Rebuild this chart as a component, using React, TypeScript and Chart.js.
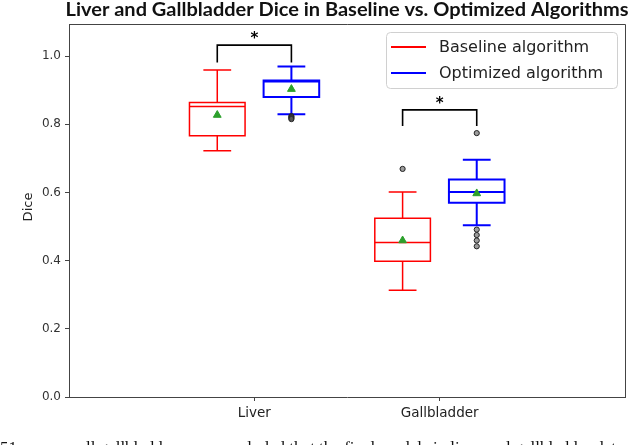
import { useEffect, useRef } from 'react';
import { Chart, registerables } from 'chart.js';

Chart.register(...registerables);

const chartTitle = 'Liver and Gallbladder Dice in Baseline vs. Optimized Algorithms';
const yAxisLabel = 'Dice';
const categories = ['Liver', 'Gallbladder'];
const seriesNames = ['Baseline algorithm', 'Optimized algorithm'];
const seriesColors = ['#ff0000', '#0000ff'];
// [lower whisker, Q1, median, Q3, upper whisker] per category
const baselineBoxes = [
  [0.722, 0.766, 0.852, 0.864, 0.959],
  [0.313, 0.398, 0.453, 0.524, 0.601],
];
const optimizedBoxes = [
  [0.829, 0.88, 0.925, 0.928, 0.969],
  [0.504, 0.57, 0.601, 0.638, 0.696],
];
const baselineMeans = [0.827, 0.459];
const optimizedMeans = [0.903, 0.597];
const baselineOutliers = [[], [0.669]];
const optimizedOutliers = [
  [0.824, 0.821, 0.818, 0.815],
  [0.774, 0.491, 0.475, 0.459, 0.442],
];
const significanceLabels = ['*', '*'];
const bracketTops = [1.032, 0.842];
const bracketLegs = [0.981, 0.795];
const yTicks = [0, 0.2, 0.4, 0.6, 0.8, 1.0];
const caption =
  '51 were small gallbladders, we concluded that the final models in liver and gallbladder dete';

const allBoxes = [baselineBoxes, optimizedBoxes];
const allMeans = [baselineMeans, optimizedMeans];
const allOutliers = [baselineOutliers, optimizedOutliers];
const OFFSETS = [-0.2, 0.2];
const BOX_W = 0.3;
const CAP_W = 0.15;

const boxPlugin = {
  id: 'boxPlugin',
  beforeDatasetsDraw(chart: any) {
    const { ctx, scales } = chart;
    const xs = scales.x;
    const ys = scales.y;
    ctx.save();
    allBoxes.forEach((series, si) => {
      ctx.strokeStyle = seriesColors[si];
      ctx.lineWidth = si === 0 ? 1.5 : 2;
      series.forEach((b, ci) => {
        const c = ci + 1 + OFFSETS[si];
        const xc = xs.getPixelForValue(c);
        const xl = xs.getPixelForValue(c - BOX_W / 2);
        const xr = xs.getPixelForValue(c + BOX_W / 2);
        const cl = xs.getPixelForValue(c - CAP_W / 2);
        const cr = xs.getPixelForValue(c + CAP_W / 2);
        const [lo, q1, med, q3, hi] = b.map((v) => ys.getPixelForValue(v));
        ctx.beginPath();
        ctx.rect(xl, q3, xr - xl, q1 - q3);
        ctx.moveTo(xl, med);
        ctx.lineTo(xr, med);
        ctx.moveTo(xc, q3);
        ctx.lineTo(xc, hi);
        ctx.moveTo(cl, hi);
        ctx.lineTo(cr, hi);
        ctx.moveTo(xc, q1);
        ctx.lineTo(xc, lo);
        ctx.moveTo(cl, lo);
        ctx.lineTo(cr, lo);
        ctx.stroke();
      });
    });
    ctx.restore();
  },
  afterDraw(chart: any) {
    const { ctx, scales, chartArea } = chart;
    const xs = scales.x;
    const ys = scales.y;
    ctx.save();
    // top & right spines
    ctx.strokeStyle = '#444';
    ctx.lineWidth = 1;
    ctx.beginPath();
    ctx.moveTo(chartArea.left, chartArea.top + 0.5);
    ctx.lineTo(chartArea.right + 0.5, chartArea.top + 0.5);
    ctx.lineTo(chartArea.right + 0.5, chartArea.bottom);
    ctx.stroke();

    // significance brackets
    ctx.strokeStyle = '#000';
    ctx.lineWidth = 1.6;
    ctx.fillStyle = '#000';
    ctx.font = 'bold 15px "DejaVu Sans"';
    ctx.textAlign = 'center';
    ctx.textBaseline = 'alphabetic';
    categories.forEach((_, ci) => {
      const x1 = xs.getPixelForValue(ci + 1 + OFFSETS[0]);
      const x2 = xs.getPixelForValue(ci + 1 + OFFSETS[1]);
      const yt = ys.getPixelForValue(bracketTops[ci]);
      const yl = ys.getPixelForValue(bracketLegs[ci]);
      ctx.beginPath();
      ctx.moveTo(x1, yl);
      ctx.lineTo(x1, yt);
      ctx.lineTo(x2, yt);
      ctx.lineTo(x2, yl);
      ctx.stroke();
      ctx.fillText(significanceLabels[ci], (x1 + x2) / 2, yt - 2);
    });

    // legend
    const lw = 231;
    const lh = 56;
    const lx = chartArea.right - 8 - lw;
    const ly = chartArea.top + 8;
    ctx.fillStyle = 'rgba(255,255,255,0.85)';
    ctx.strokeStyle = '#d0d0d0';
    ctx.lineWidth = 1;
    ctx.beginPath();
    (ctx as any).roundRect(lx + 0.5, ly + 0.5, lw, lh, 4);
    ctx.fill();
    ctx.stroke();
    ctx.font = '16px "DejaVu Sans"';
    ctx.textAlign = 'left';
    ctx.textBaseline = 'middle';
    seriesNames.forEach((name, i) => {
      const yy = ly + 15 + i * 26;
      ctx.strokeStyle = seriesColors[i];
      ctx.lineWidth = 2;
      ctx.beginPath();
      ctx.moveTo(lx + 5, yy);
      ctx.lineTo(lx + 40, yy);
      ctx.stroke();
      ctx.fillStyle = '#222';
      ctx.fillText(name, lx + 53, yy + 1);
    });

    // y axis label
    ctx.save();
    ctx.translate(29, 207);
    ctx.rotate(-Math.PI / 2);
    ctx.font = '13px "DejaVu Sans"';
    ctx.fillStyle = '#222';
    ctx.textAlign = 'center';
    ctx.textBaseline = 'middle';
    ctx.fillText(yAxisLabel, 0, 0);
    ctx.restore();

    // title
    ctx.save();
    ctx.font = 'bold 19px Lato';
    ctx.fillStyle = '#111';
    ctx.textAlign = 'center';
    ctx.textBaseline = 'alphabetic';
    const tw = ctx.measureText(chartTitle).width;
    const target = 563;
    const cx = (chartArea.left + chartArea.right) / 2;
    ctx.translate(cx, 16);
    ctx.scale(target / tw, 1);
    ctx.fillText(chartTitle, 0, 0);
    ctx.restore();

    ctx.restore();
  },
};

export default function App() {
  const canvasRef = useRef<HTMLCanvasElement | null>(null);

  useEffect(() => {
    document.body.style.margin = '0';
    const canvas = canvasRef.current;
    if (!canvas) return;

    const datasets: any[] = [];
    allMeans.forEach((means, si) => {
      datasets.push({
        type: 'scatter',
        label: seriesNames[si] + ' mean',
        data: means.map((m, ci) => ({ x: ci + 1 + OFFSETS[si], y: m })),
        pointStyle: 'triangle',
        radius: 4.5,
        backgroundColor: '#2ca02c',
        borderColor: '#2ca02c',
        borderWidth: 1,
      });
    });
    allOutliers.forEach((outs, si) => {
      const pts: any[] = [];
      outs.forEach((arr, ci) => arr.forEach((v) => pts.push({ x: ci + 1 + OFFSETS[si], y: v })));
      datasets.push({
        type: 'scatter',
        label: seriesNames[si] + ' outliers',
        data: pts,
        pointStyle: 'circle',
        radius: 2.6,
        backgroundColor: 'rgba(90,90,90,0.6)',
        borderColor: '#222',
        borderWidth: 1,
      });
    });

    const chart = new Chart(canvas, {
      type: 'scatter',
      data: { datasets },
      options: {
        animation: false,
        responsive: true,
        maintainAspectRatio: false,
        layout: { padding: { top: 24, right: 15, left: 0, bottom: 0 } },
        plugins: {
          legend: { display: false },
          tooltip: { enabled: false },
          title: { display: false },
        },
        scales: {
          x: {
            type: 'linear',
            min: 0,
            max: 3,
            afterBuildTicks: (s: any) => {
              s.ticks = categories.map((_, i) => ({ value: i + 1 }));
            },
            afterFit: (s: any) => {
              s.height = 48;
            },
            ticks: {
              callback: (v: any) => categories[Number(v) - 1] ?? '',
              font: { family: '"DejaVu Sans"', size: 13.5 },
              color: '#222',
              padding: 4,
              maxRotation: 0,
              autoSkip: false,
            },
            grid: {
              drawOnChartArea: false,
              drawTicks: true,
              tickLength: 4,
              color: '#444',
            },
            border: { display: true, color: '#444', width: 1 },
          },
          y: {
            type: 'linear',
            min: 0,
            max: 1.094,
            afterBuildTicks: (s: any) => {
              s.ticks = yTicks.map((v) => ({ value: v }));
            },
            afterFit: (s: any) => {
              s.width = 69;
            },
            ticks: {
              callback: (v: any) => Number(v).toFixed(1),
              font: { family: '"DejaVu Sans"', size: 12 },
              color: '#333',
              padding: 4,
              autoSkip: false,
            },
            grid: {
              drawOnChartArea: false,
              drawTicks: true,
              tickLength: 4,
              color: '#444',
            },
            border: { display: true, color: '#444', width: 1 },
          },
        },
      },
      plugins: [boxPlugin],
    });

    return () => chart.destroy();
  }, []);

  return (
    <div style={{ position: 'relative', width: 640, height: 445, overflow: 'hidden', background: '#fff' }}>
      <canvas ref={canvasRef} width={640} height={445} />
      <div
        style={{
          position: 'absolute',
          left: 0,
          top: 439,
          whiteSpace: 'nowrap',
          fontFamily: '"Liberation Serif", serif',
          fontSize: 17,
          lineHeight: '17px',
          color: '#111',
        }}
      >
        {caption}
      </div>
    </div>
  );
}
